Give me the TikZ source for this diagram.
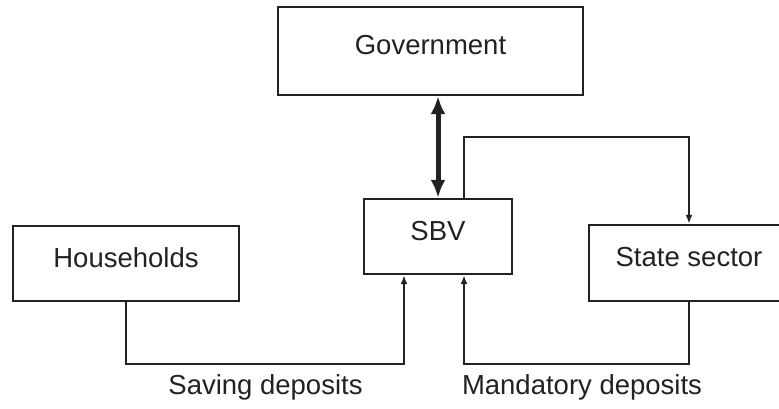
\documentclass[tikz,border=0pt]{standalone}
\usepackage{fontspec}
\setmainfont{Liberation Sans}
\usetikzlibrary{arrows.meta,calc}
\definecolor{ink}{HTML}{222222}
\begin{document}
\begin{tikzpicture}[x=1pt,y=-1pt,
  box/.style={draw=ink,line width=2.4pt,rectangle,inner sep=0pt,
    text=ink,font=\fontsize{27.5}{33}\selectfont,text height=0.716em,text depth=0pt},
  lbl/.style={text=ink,inner sep=0pt,font=\fontsize{27.5}{33}\selectfont,text height=0.716em,text depth=0pt},
  conn/.style={draw=ink,line width=1.9pt,-{Latex[length=9pt,width=7pt]}},
  big/.style={draw=ink,line width=5pt,{Latex[length=18pt,width=15pt]}-{Latex[length=18pt,width=15pt]}}]
\useasboundingbox (0,0) rectangle (779,409);
\fill[white] (0,0) rectangle (779,409);
\node[box,minimum width=305pt,minimum height=88pt] (gov) at (430.5,51) {Government};
\node[box,minimum width=148pt,minimum height=75pt] (sbv) at (438,236.5) {SBV};
\node[box,minimum width=226pt,minimum height=75pt] (hh) at (126,263.5) {Households};
\node[box,minimum width=200pt,minimum height=76pt] (ss) at (689,263) {State sector};
\node[lbl] (sav) at (265.5,391) {Saving deposits};
\node[lbl] (man) at (582,391) {Mandatory deposits};
\draw[big] (sbv.north |- gov.south) -- (sbv.north);
\draw[conn] ($(sbv.north)+(26,0)$) -- ++(0,-61) -| (ss.north);
\draw[conn] (hh.south) -- ++(0,62) -| ($(sbv.south)+(-34,0)$);
\draw[conn] (ss.south) -- ++(0,62) -| ($(sbv.south)+(26,0)$);
\end{tikzpicture}
\end{document}
